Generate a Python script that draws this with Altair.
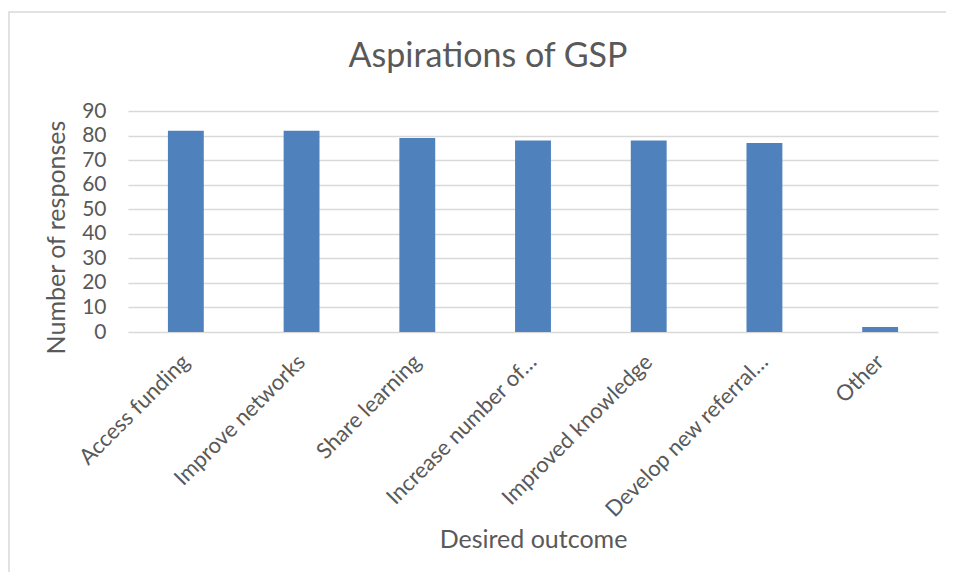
import altair as alt
import pandas as pd

categories = ["Access funding", "Improve networks", "Share learning",
              "Increase number of…", "Improved knowledge",
              "Develop new referral…", "Other"]
responses = [82, 82, 79, 78, 78, 77, 2]
y_ticks = [0, 10, 20, 30, 40, 50, 60, 70, 80, 90]
chart_title = "Aspirations of GSP"

df = pd.DataFrame({"outcome": categories, "responses": responses})

FONT = "Lato"
GREY = "#595959"

frame = alt.Chart(alt.Data(values=[{"f": 1}])).mark_rect(
    filled=False, stroke="#d9d9d9", strokeWidth=1.5
).encode(
    x=alt.value(-119), x2=alt.value(840),
    y=alt.value(-99), y2=alt.value(480)
)

title = alt.Chart(alt.Data(values=[{"t": chart_title}])).mark_text(
    font=FONT, fontSize=34, color=GREY, align="center", baseline="alphabetic"
).encode(
    text="t:N", x=alt.value(360), y=alt.value(-44)
)

bars = alt.Chart(df).mark_bar(color="#4f81bd").encode(
    x=alt.X("outcome:N", sort=categories,
            scale=alt.Scale(paddingInner=0.69, paddingOuter=0.345),
            axis=alt.Axis(title="Desired outcome", labelAngle=-45,
                          labelAlign="right", labelBaseline="middle",
                          labelFontSize=22, labelColor=GREY, labelFont=FONT,
                          labelPadding=26, ticks=False, domain=False,
                          titleFontSize=25, titleColor=GREY, titleFont=FONT,
                          titleFontWeight="normal", titleBaseline="alphabetic",
                          titleY=215, labelLimit=300)),
    y=alt.Y("responses:Q", scale=alt.Scale(domain=[0, 90]),
            axis=alt.Axis(title="Number of responses", values=y_ticks,
                          labelFontSize=21, labelColor=GREY, labelFont=FONT,
                          labelPadding=22, ticks=False, domain=False,
                          gridColor="#d9d9d9", gridWidth=1.5,
                          titleFontSize=25, titleColor=GREY, titleFont=FONT,
                          titleFontWeight="normal", titlePadding=12,
                          titleY=126))
)

chart = alt.layer(frame, title, bars).properties(
    width=810, height=221,
    autosize=alt.AutoSizeParams(type="none"),
    padding={"left": 120, "top": 103, "right": 8, "bottom": 240}
).configure_view(stroke=None)

chart.save("out.html", embed_options={"renderer": "svg", "actions": False})
